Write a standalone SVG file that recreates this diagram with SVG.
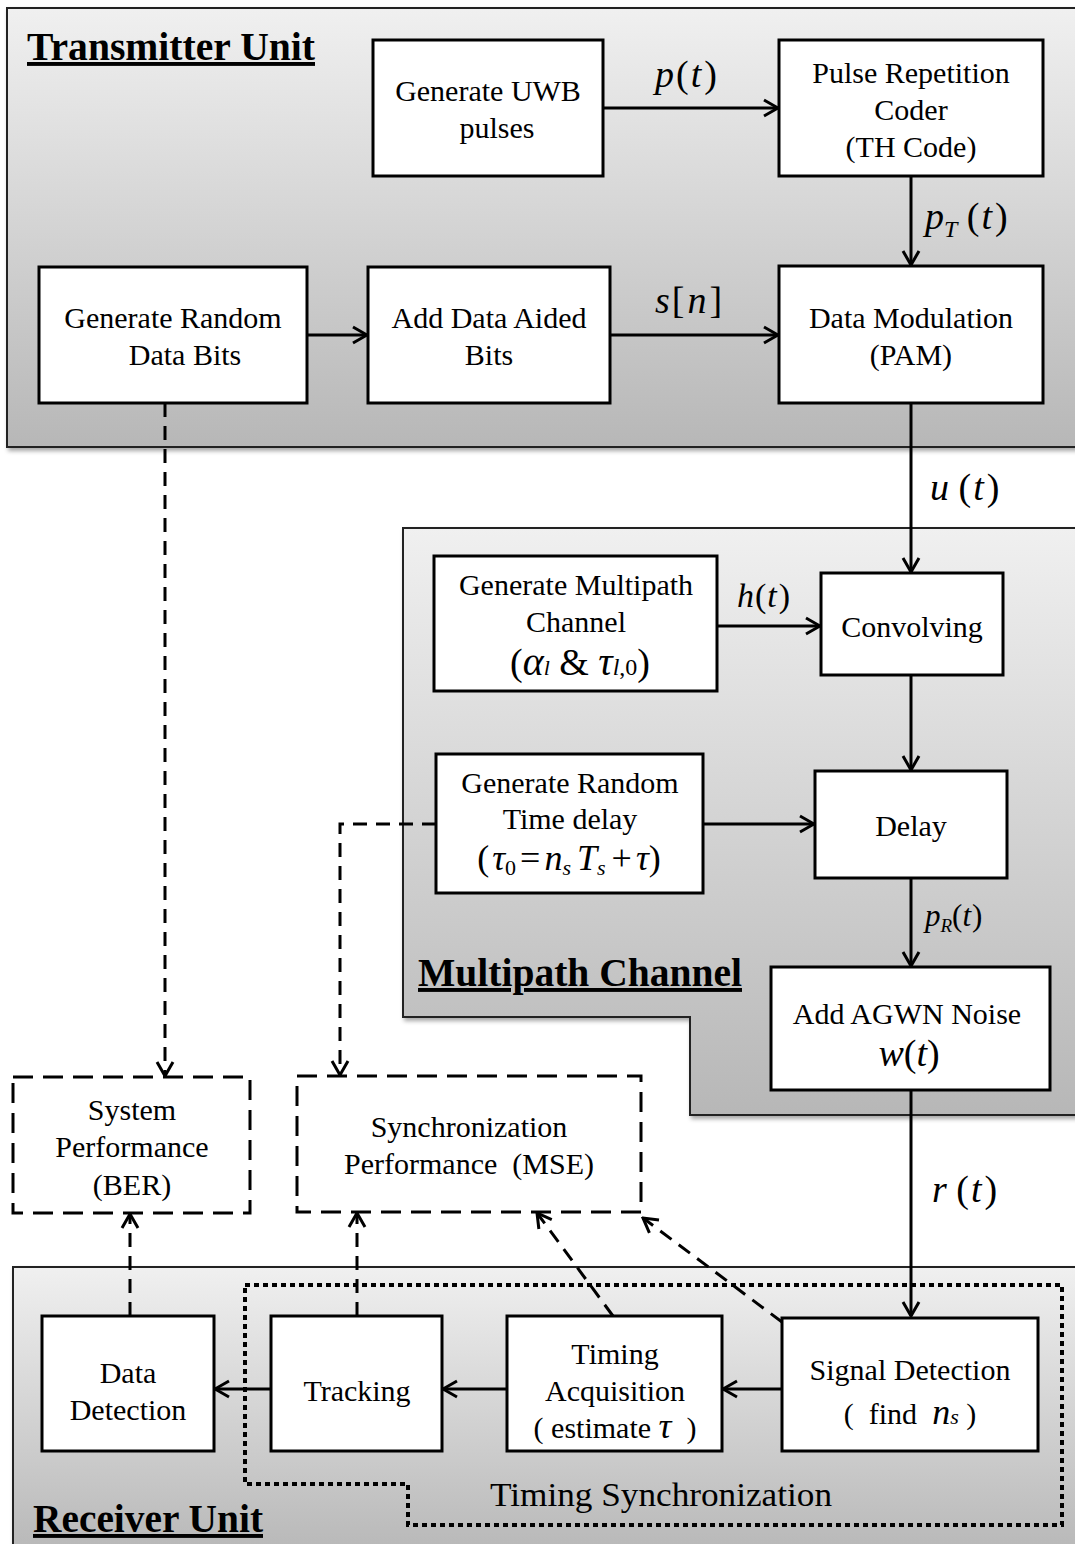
<svg xmlns="http://www.w3.org/2000/svg" width="1075" height="1544" viewBox="0 0 1075 1544">
<defs>
<linearGradient id="gr" x1="0" y1="0" x2="0" y2="1">
<stop offset="0" stop-color="#f0f0f0"/>
<stop offset="1" stop-color="#b7b7b7"/>
</linearGradient>
<filter id="sh" x="-5%" y="-5%" width="110%" height="110%">
<feDropShadow dx="2" dy="3" stdDeviation="2" flood-color="#000" flood-opacity="0.35"/>
</filter>
<marker id="ah" markerUnits="userSpaceOnUse" markerWidth="18" markerHeight="20" viewBox="0 0 18 20" refX="16" refY="10" orient="auto">
<path d="M2,2 L16,10 L2,18" fill="none" stroke="#000" stroke-width="3" stroke-dasharray="none"/>
</marker>
<style>
.panel{fill:url(#gr);stroke:#222;stroke-width:2;filter:url(#sh)}
.bx{fill:#fff;stroke:#000;stroke-width:3}
.db{fill:none;stroke:#000;stroke-width:3;stroke-dasharray:20 10}
.ln{fill:none;stroke:#000;stroke-width:3}
.ar{marker-end:url(#ah)}
.dl{stroke-dasharray:14 9}
.dot{fill:none;stroke:#000;stroke-width:4;stroke-dasharray:5 4}
text{font-family:"Liberation Serif","Times New Roman",serif;fill:#000}
.t{font-size:30px;text-anchor:middle}
.hd{font-size:39px;font-weight:bold;text-decoration:underline}
.m{font-size:38px;font-style:italic}
.r{font-style:normal}
</style>
</defs>

<g id="panels">
<rect id="transmitter-panel" class="panel" x="7" y="8" width="1080" height="439"/>
<path id="channel-panel" class="panel" d="M403,528 H1087 V1115 H690 V1017 H403 Z"/>
<rect id="receiver-panel" class="panel" x="13" y="1267" width="1080" height="290"/>
<path id="timing-sync-boundary" class="dot" d="M245,1285 H1062 V1525 H408 V1484 H245 Z"/>
<text x="27" y="60" class="hd" textLength="288" lengthAdjust="spacingAndGlyphs">Transmitter Unit</text>
<text x="418" y="986" class="hd" textLength="324" lengthAdjust="spacingAndGlyphs">Multipath Channel</text>
<text x="33" y="1532" class="hd" textLength="230" lengthAdjust="spacingAndGlyphs">Receiver Unit</text>
<text x="490" y="1506" style="font-size:33px" textLength="342" lengthAdjust="spacingAndGlyphs">Timing Synchronization</text>
</g>

<g id="connectors">
<line class="ln ar" x1="603" y1="108" x2="778" y2="108"/>
<line class="ln ar" x1="911" y1="176" x2="911" y2="265"/>
<line class="ln ar" x1="307" y1="335" x2="367" y2="335"/>
<line class="ln ar" x1="610" y1="335" x2="778" y2="335"/>
<line class="ln ar" x1="911" y1="403" x2="911" y2="572"/>
<line class="ln ar" x1="717" y1="626" x2="820" y2="626"/>
<line class="ln ar" x1="911" y1="675" x2="911" y2="770"/>
<line class="ln ar" x1="703" y1="824" x2="814" y2="824"/>
<line class="ln ar" x1="911" y1="878" x2="911" y2="966"/>
<line class="ln ar" x1="911" y1="1090" x2="911" y2="1316"/>
<line class="ln ar" x1="782" y1="1389" x2="723" y2="1389"/>
<line class="ln ar" x1="507" y1="1389" x2="443" y2="1389"/>
<line class="ln ar" x1="271" y1="1389" x2="215" y2="1389"/>
<path class="ln dl ar" d="M165,403 V1076"/>
<path class="ln dl ar" d="M436,824 H340 V1075"/>
<path class="ln dl ar" d="M130,1316 V1214"/>
<path class="ln dl ar" d="M357,1316 V1213"/>
<path class="ln dl ar" d="M613,1316 L537,1213"/>
<path class="ln dl ar" d="M782,1322 L643,1218"/>
<text class="m" x="655" y="87">p<tspan class="r" dx="2">(</tspan><tspan dx="2">t</tspan><tspan class="r" dx="3">)</tspan></text>
<text class="m" x="925" y="229">p<tspan style="font-size:24px" dy="8">T</tspan><tspan class="r" dy="-8"> (</tspan><tspan dx="2">t</tspan><tspan class="r" dx="3">)</tspan></text>
<text class="m" x="655" y="313">s<tspan class="r" dx="2">[</tspan><tspan dx="3">n</tspan><tspan class="r" dx="3">]</tspan></text>
<text class="m" x="930" y="500">u<tspan class="r"> (</tspan><tspan dx="2">t</tspan><tspan class="r" dx="3">)</tspan></text>
<text class="m" x="737" y="607" style="font-size:34px">h<tspan class="r" dx="1">(</tspan><tspan dx="1">t</tspan><tspan class="r" dx="2">)</tspan></text>
<text class="m" x="925" y="926" style="font-size:31px">p<tspan style="font-size:19px" dy="6">R</tspan><tspan class="r" dy="-6">(</tspan>t<tspan class="r" dx="1">)</tspan></text>
<text class="m" x="932" y="1202">r<tspan class="r"> (</tspan><tspan dx="2">t</tspan><tspan class="r" dx="3">)</tspan></text>
</g>

<g id="gen-uwb">
<rect class="bx" x="373" y="40" width="230" height="136"/>
<text class="t" x="488" y="101">Generate UWB</text>
<text class="t" x="497" y="138">pulses</text>
</g>
<g id="pulse-rep">
<rect class="bx" x="779" y="40" width="264" height="136"/>
<text class="t" x="911" y="83">Pulse Repetition</text>
<text class="t" x="911" y="120">Coder</text>
<text class="t" x="911" y="157">(TH Code)</text>
</g>
<g id="gen-data">
<rect class="bx" x="39" y="267" width="268" height="136"/>
<text class="t" x="173" y="328">Generate Random</text>
<text class="t" x="185" y="365">Data Bits</text>
</g>
<g id="add-data">
<rect class="bx" x="368" y="267" width="242" height="136"/>
<text class="t" x="489" y="328">Add Data Aided</text>
<text class="t" x="489" y="365">Bits</text>
</g>
<g id="data-mod">
<rect class="bx" x="779" y="266" width="264" height="137"/>
<text class="t" x="911" y="328">Data Modulation</text>
<text class="t" x="911" y="365">(PAM)</text>
</g>

<g id="gen-multipath">
<rect class="bx" x="434" y="556" width="283" height="135"/>
<text class="t" x="576" y="595">Generate Multipath</text>
<text class="t" x="576" y="632">Channel</text>
<text class="t" x="580" y="675" style="font-size:38px">(<tspan font-style="italic" font-size="40">α</tspan><tspan font-style="italic" font-size="22">l</tspan> &amp; <tspan font-style="italic" font-size="40">τ</tspan><tspan font-style="italic" font-size="24">l</tspan><tspan font-size="24">,0</tspan>)</text>
</g>
<g id="convolving">
<rect class="bx" x="821" y="573" width="182" height="102"/>
<text class="t" x="912" y="637">Convolving</text>
</g>
<g id="gen-delay">
<rect class="bx" x="436" y="754" width="267" height="139"/>
<text class="t" x="569" y="870" style="font-size:36px">(<tspan font-style="italic" dx="3">τ</tspan><tspan font-size="22" dy="5">0</tspan><tspan dy="-5" dx="4">=</tspan><tspan font-style="italic" dx="4">n</tspan><tspan font-style="italic" font-size="22" dy="5">s</tspan><tspan font-style="italic" dy="-5" dx="6">T</tspan><tspan font-style="italic" font-size="22" dy="5">s</tspan><tspan dy="-5" dx="6">+</tspan><tspan font-style="italic" dx="4">τ</tspan>)</text>
<text class="t" x="570" y="793">Generate Random</text>
<text class="t" x="570" y="829">Time delay</text>
</g>
<g id="delay">
<rect class="bx" x="815" y="771" width="192" height="107"/>
<text class="t" x="911" y="836">Delay</text>
</g>
<g id="add-noise">
<rect class="bx" x="771" y="967" width="279" height="123"/>
<text class="t" x="907" y="1024">Add AGWN Noise</text>
<text class="t" x="909" y="1066" style="font-size:38px;font-style:italic">w<tspan font-style="normal">(</tspan>t<tspan font-style="normal">)</tspan></text>
</g>

<g id="sys-perf">
<rect class="db" x="13" y="1077" width="237" height="136"/>
<text class="t" x="132" y="1120">System</text>
<text class="t" x="132" y="1157">Performance</text>
<text class="t" x="132" y="1195">(BER)</text>
</g>
<g id="sync-perf">
<rect class="db" x="297" y="1076" width="344" height="136"/>
<text class="t" x="469" y="1137">Synchronization</text>
<text class="t" x="469" y="1174" xml:space="preserve">Performance  (MSE)</text>
</g>

<g id="data-detect">
<rect class="bx" x="42" y="1316" width="172" height="135"/>
<text class="t" x="128" y="1383">Data</text>
<text class="t" x="128" y="1420">Detection</text>
</g>
<g id="tracking">
<rect class="bx" x="271" y="1316" width="171" height="135"/>
<text class="t" x="357" y="1401">Tracking</text>
</g>
<g id="timing-acq">
<rect class="bx" x="507" y="1316" width="215" height="135"/>
<text class="t" x="615" y="1364">Timing</text>
<text class="t" x="615" y="1401">Acquisition</text>
<text class="t" x="615" y="1438" xml:space="preserve">( estimate <tspan font-style="italic" font-size="36">τ</tspan>  )</text>
</g>
<g id="signal-detect">
<rect class="bx" x="782" y="1318" width="256" height="133"/>
<text class="t" x="910" y="1380">Signal Detection</text>
<text class="t" x="910" y="1424" xml:space="preserve">(  find  <tspan font-style="italic" font-size="36">n</tspan><tspan font-style="italic" font-size="22">s</tspan> )</text>
</g>
</svg>
